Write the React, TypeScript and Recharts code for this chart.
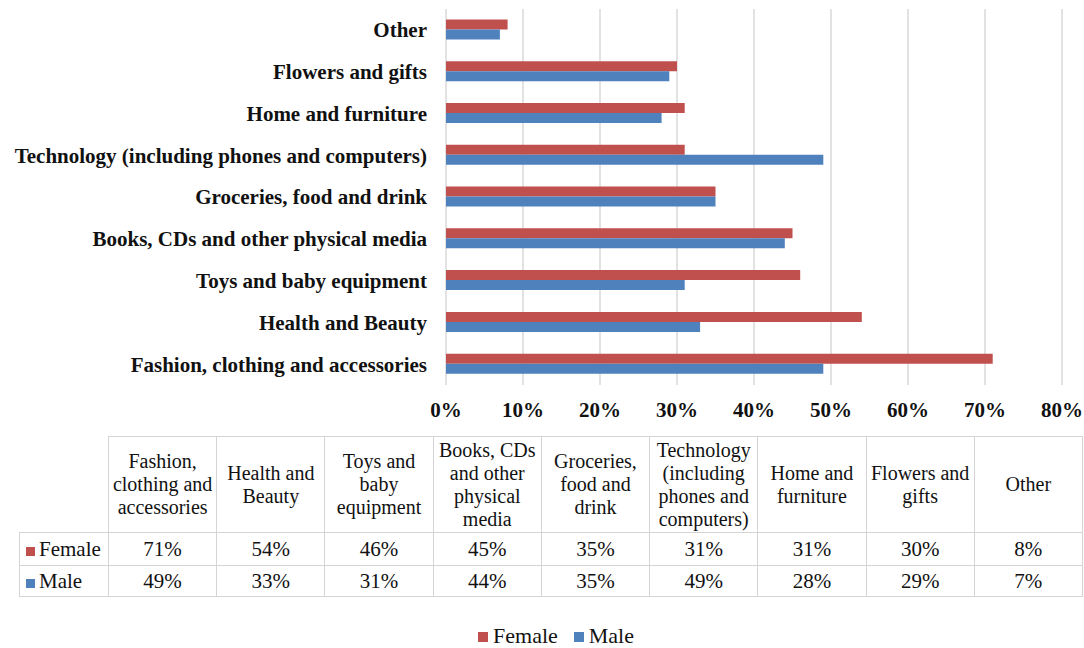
import React from 'react';
import { BarChart, Bar, XAxis, YAxis, CartesianGrid, Legend } from 'recharts';

const categories = [
  'Fashion, clothing and accessories',
  'Health and Beauty',
  'Toys and baby equipment',
  'Books, CDs and other physical media',
  'Groceries, food and drink',
  'Technology (including phones and computers)',
  'Home and furniture',
  'Flowers and gifts',
  'Other',
];
const tableHeaders = [
  ['Fashion,', 'clothing and', 'accessories'],
  ['Health and', 'Beauty'],
  ['Toys and', 'baby', 'equipment'],
  ['Books, CDs', 'and other', 'physical', 'media'],
  ['Groceries,', 'food and', 'drink'],
  ['Technology', '(including', 'phones and', 'computers)'],
  ['Home and', 'furniture'],
  ['Flowers and', 'gifts'],
  ['Other'],
];
const female = [71, 54, 46, 45, 35, 31, 31, 30, 8];
const male = [49, 33, 31, 44, 35, 49, 28, 29, 7];
const xTicks = [0, 10, 20, 30, 40, 50, 60, 70, 80];

const FEMALE_COLOR = '#C0504D';
const MALE_COLOR = '#4F81BD';
const FONT = 'Liberation Serif';

const data = categories.map((c, i) => ({ category: c, Female: female[i], Male: male[i] }));

const LegendContent = () => (
  <div
    style={{
      height: 30,
      boxSizing: 'border-box',
      paddingTop: 5,
      paddingLeft: 50,
      display: 'flex',
      justifyContent: 'center',
      alignItems: 'center',
      fontFamily: FONT,
      fontSize: 22,
      color: '#111',
    }}
  >
    <span style={{ display: 'inline-block', width: 10, height: 10, background: FEMALE_COLOR, marginRight: 5, marginTop: 2 }} />
    <span style={{ marginRight: 16 }}>Female</span>
    <span style={{ display: 'inline-block', width: 10, height: 10, background: MALE_COLOR, marginRight: 5, marginTop: 2 }} />
    <span>Male</span>
  </div>
);

const border = '1px solid #d4d4d4';

export default function App() {
  const colW = (1082 - 108) / 9;
  return (
    <div style={{ position: 'absolute', left: 0, top: 0, width: 1084, height: 648, background: '#fff' }}>
      <BarChart
        width={1084}
        height={648}
        data={data}
        layout="vertical"
        margin={{ top: 9, right: 22, left: 0, bottom: 0 }}
        barCategoryGap="25%"
        barGap={0}
      >
        <CartesianGrid horizontal={false} stroke="#d9d9d9" strokeWidth={1.5} />
        <XAxis
          type="number"
          domain={[0, 80]}
          ticks={xTicks}
          tickFormatter={(v) => `${v}%`}
          axisLine={false}
          tickLine={false}
          tickSize={0}
          tickMargin={17}
          height={233}
          interval={0}
          tick={{ fontFamily: FONT, fontSize: 21, fontWeight: 'bold', fill: '#111' }}
        />
        <YAxis
          type="category"
          dataKey="category"
          reversed
          width={446}
          axisLine={false}
          tickLine={false}
          tickSize={0}
          tickMargin={19}
          interval={0}
          tick={{ fontFamily: FONT, fontSize: 21, fontWeight: 'bold', fill: '#111' }}
        />
        <Legend verticalAlign="bottom" content={<LegendContent />} />
        <Bar dataKey="Female" fill={FEMALE_COLOR} isAnimationActive={false} />
        <Bar dataKey="Male" fill={MALE_COLOR} isAnimationActive={false} />
      </BarChart>
      <table
        style={{
          position: 'absolute',
          left: 19,
          top: 436,
          width: 1063,
          borderCollapse: 'collapse',
          tableLayout: 'fixed',
          fontFamily: FONT,
          fontSize: 21,
          color: '#111',
        }}
      >
        <colgroup>
          <col style={{ width: 89 }} />
          {categories.map((c) => (
            <col key={c} style={{ width: colW }} />
          ))}
        </colgroup>
        <tbody>
          <tr style={{ height: 96 }}>
            <td style={{ borderTop: 'none', borderLeft: 'none', borderRight: border, borderBottom: border }} />
            {tableHeaders.map((lines, i) => (
              <td
                key={i}
                style={{
                  border,
                  textAlign: 'center',
                  verticalAlign: 'middle',
                  lineHeight: '23px',
                  fontSize: 20,
                  padding: 0,
                  whiteSpace: 'nowrap',
                }}
              >
                {lines.map((l, j) => (
                  <div key={j}>{l}</div>
                ))}
              </td>
            ))}
          </tr>
          <tr style={{ height: 33 }}>
            <td style={{ border, padding: '0 0 0 6px', whiteSpace: 'nowrap' }}>
              <span style={{ display: 'inline-block', width: 9, height: 9, background: FEMALE_COLOR, marginRight: 4 }} />
              Female
            </td>
            {female.map((v, i) => (
              <td key={i} style={{ border, textAlign: 'center', padding: 0 }}>{`${v}%`}</td>
            ))}
          </tr>
          <tr style={{ height: 31 }}>
            <td style={{ border, padding: '0 0 0 6px', whiteSpace: 'nowrap' }}>
              <span style={{ display: 'inline-block', width: 9, height: 9, background: MALE_COLOR, marginRight: 4 }} />
              Male
            </td>
            {male.map((v, i) => (
              <td key={i} style={{ border, textAlign: 'center', padding: 0 }}>{`${v}%`}</td>
            ))}
          </tr>
        </tbody>
      </table>
    </div>
  );
}
